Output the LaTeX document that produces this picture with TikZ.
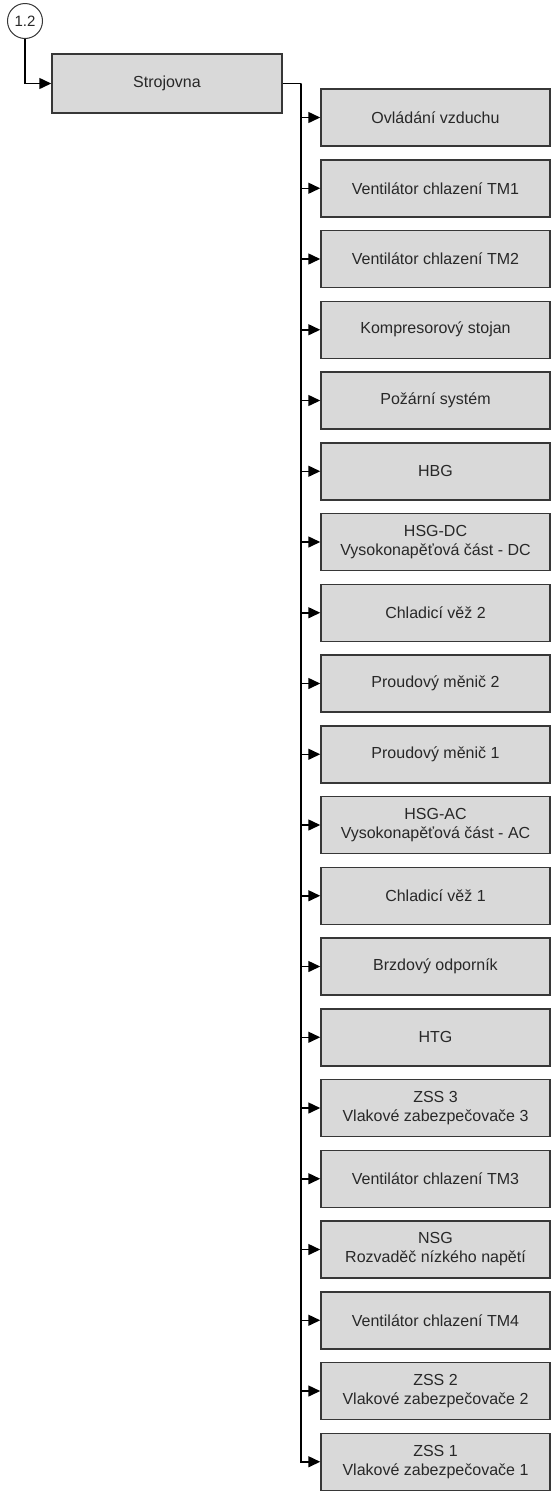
\documentclass[tikz,border=0pt]{standalone}
\usepackage{fontspec}
\setmainfont{Liberation Sans}
\usepackage{xcolor}
\usepackage{tikz}
\usetikzlibrary{arrows.meta, positioning}
\definecolor{boxgray}{RGB}{217, 217, 217}
\definecolor{boxline}{RGB}{55, 55, 55}
\definecolor{textgray}{RGB}{40, 40, 40}
\tikzstyle{unit} = [
    rectangle, 
    minimum width=229pt, 
    minimum height=57pt, 
    inner sep=0pt,
    align=center, 
    draw=boxline, 
    fill=boxgray,
    line width=1.5pt,
    text=textgray,
    font=\fontsize{16}{19}\selectfont
]
\tikzstyle{ref} = [
    circle, 
    minimum size=35pt, 
    inner sep=0pt,
    draw=boxline, 
    line width=1pt,
    text=textgray,
    font=\fontsize{15}{18}\selectfont
]
\tikzstyle{arrow} = [
    line width=1.5pt, 
    -{Triangle[length=12pt, width=11pt]}, 
    color=black
]

\begin{document}
\begin{tikzpicture}[x=1pt, y=-1pt]
        \useasboundingbox (0,0) rectangle (552,1492);
        % Reference
        \node[ref] (sheet) at (25, 21) {1.2};
        
        % Machine room
        \node[unit, minimum width=230pt, minimum height=59pt] (room) at (167, 83.5) {Strojovna};
        \coordinate (bus) at (301, 83.5);
        
        % Devices
        \node[unit] (airctl) at (435.5, 117.5) {Ovládání vzduchu};
        \node[unit] (fan1) at (435.5, 188.25) {Ventilátor chlazení TM1};
        \node[unit] (fan2) at (435.5, 259) {Ventilátor chlazení TM2};
        \node[unit] (compr) at (435.5, 329.75) {Kompresorový stojan};
        \node[unit] (fire) at (435.5, 400.5) {Požární systém};
        \node[unit] (hbg) at (435.5, 471.25) {HBG};
        \node[unit] (hsgdc) at (435.5, 542) {HSG-DC\\Vysokonapěťová část - DC};
        \node[unit] (tower2) at (435.5, 612.75) {Chladicí věž 2};
        \node[unit] (conv2) at (435.5, 683.5) {Proudový měnič 2};
        \node[unit] (conv1) at (435.5, 754.25) {Proudový měnič 1};
        \node[unit] (hsgac) at (435.5, 825) {HSG-AC\\Vysokonapěťová část - AC};
        \node[unit] (tower1) at (435.5, 895.75) {Chladicí věž 1};
        \node[unit] (brake) at (435.5, 966.5) {Brzdový odporník};
        \node[unit] (htg) at (435.5, 1037.25) {HTG};
        \node[unit] (zss3) at (435.5, 1108) {ZSS 3\\Vlakové zabezpečovače 3};
        \node[unit] (fan3) at (435.5, 1178.75) {Ventilátor chlazení TM3};
        \node[unit] (nsg) at (435.5, 1249.5) {NSG\\Rozvaděč nízkého napětí};
        \node[unit] (fan4) at (435.5, 1320.25) {Ventilátor chlazení TM4};
        \node[unit] (zss2) at (435.5, 1391) {ZSS 2\\Vlakové zabezpečovače 2};
        \node[unit] (zss1) at (435.5, 1461.75) {ZSS 1\\Vlakové zabezpečovače 1};
        
        % Arrows
        \draw[arrow] (sheet) |- (room);
        \draw[line width=1.5pt] (room) -- (bus);
        \draw[arrow] (bus) |- (airctl);
        \draw[arrow] (bus) |- (fan1);
        \draw[arrow] (bus) |- (fan2);
        \draw[arrow] (bus) |- (compr);
        \draw[arrow] (bus) |- (fire);
        \draw[arrow] (bus) |- (hbg);
        \draw[arrow] (bus) |- (hsgdc);
        \draw[arrow] (bus) |- (tower2);
        \draw[arrow] (bus) |- (conv2);
        \draw[arrow] (bus) |- (conv1);
        \draw[arrow] (bus) |- (hsgac);
        \draw[arrow] (bus) |- (tower1);
        \draw[arrow] (bus) |- (brake);
        \draw[arrow] (bus) |- (htg);
        \draw[arrow] (bus) |- (zss3);
        \draw[arrow] (bus) |- (fan3);
        \draw[arrow] (bus) |- (nsg);
        \draw[arrow] (bus) |- (fan4);
        \draw[arrow] (bus) |- (zss2);
        \draw[arrow] (bus) |- (zss1);
    \end{tikzpicture}
\end{document}
